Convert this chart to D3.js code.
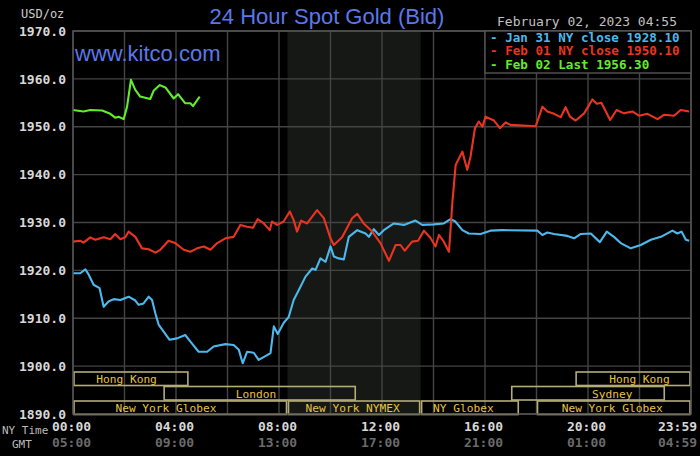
<!DOCTYPE html>
<html>
<head>
<meta charset="utf-8">
<script src="https://cdn.jsdelivr.net/npm/d3@7"></script>
<style>
  body { margin: 0; background: #000; }
  svg { display: block; }
</style>
</head>
<body>
<script>
// price ticks and time labels
const yTicks = [1890, 1900, 1910, 1920, 1930, 1940, 1950, 1960, 1970];
const xTicks = [0, 4, 8, 12, 16, 20, 23.983];
const nyLabels = ["00:00", "04:00", "08:00", "12:00", "16:00", "20:00", "23:59"];
const gmtLabels = ["05:00", "09:00", "13:00", "17:00", "21:00", "01:00", "04:59"];
const legendLabels = ["Jan 31 NY close 1928.10", "Feb 01 NY close 1950.10", "Feb 02 Last 1956.30"];

// [hour of NY day, price]
const jan31 = [
  [0, 1919.4], [0.28, 1919.4], [0.48, 1920.2], [0.61, 1919.1], [0.8, 1917.0], [1.03, 1916.3],
  [1.19, 1912.4], [1.38, 1913.5], [1.58, 1914.0], [1.84, 1913.8], [2.16, 1914.5], [2.42, 1913.7],
  [2.55, 1912.8], [2.74, 1913.1], [2.94, 1914.5], [3.07, 1913.8], [3.2, 1911.0], [3.33, 1908.6],
  [3.52, 1907.2], [3.75, 1905.5], [4.04, 1905.8], [4.36, 1906.5], [4.56, 1905.1], [4.88, 1903.0],
  [5.21, 1903.0], [5.46, 1904.1], [5.92, 1904.6], [6.24, 1904.4], [6.44, 1903.4], [6.59, 1900.6],
  [6.76, 1903.0], [7.02, 1902.8], [7.21, 1901.3], [7.54, 1902.3], [7.67, 1902.7], [7.8, 1908.3],
  [7.95, 1906.7], [8.18, 1909.0], [8.38, 1910.3], [8.57, 1913.8], [8.77, 1915.9], [9.03, 1918.7],
  [9.29, 1920.4], [9.42, 1920.1], [9.61, 1922.5], [9.81, 1921.8], [10.0, 1925.0], [10.13, 1922.9],
  [10.32, 1922.5], [10.52, 1922.3], [10.71, 1927.0], [11.04, 1928.4], [11.36, 1927.7], [11.49, 1927.0],
  [11.68, 1928.6], [11.88, 1927.4], [12.07, 1928.4], [12.46, 1929.8], [12.85, 1929.5], [13.3, 1930.4],
  [13.56, 1929.5], [14.01, 1929.6], [14.4, 1929.8], [14.66, 1930.7], [14.85, 1930.2], [15.12, 1928.4],
  [15.37, 1927.7], [15.83, 1927.6], [16.21, 1928.3], [16.67, 1928.4], [18.03, 1928.3], [18.23, 1927.4],
  [18.42, 1927.9], [18.68, 1927.6], [19.2, 1927.2], [19.46, 1926.7], [19.72, 1927.6], [20.11, 1927.7],
  [20.46, 1925.9], [20.73, 1928.1], [21.01, 1927.0], [21.27, 1925.7], [21.66, 1924.6], [22.05, 1925.3],
  [22.44, 1926.4], [22.83, 1927.0], [23.28, 1928.3], [23.47, 1927.7], [23.63, 1928.1], [23.8, 1926.4],
  [23.93, 1926.2]
];
const feb01 = [
  [0, 1926.0], [0.28, 1926.2], [0.41, 1925.8], [0.67, 1926.9], [0.87, 1926.4], [1.19, 1926.9],
  [1.45, 1926.5], [1.64, 1927.6], [1.84, 1926.5], [2.03, 1926.9], [2.16, 1928.1], [2.42, 1927.0],
  [2.68, 1924.6], [2.94, 1924.4], [3.2, 1923.7], [3.39, 1924.3], [3.71, 1926.2], [3.97, 1925.7],
  [4.3, 1924.3], [4.56, 1923.9], [4.82, 1924.6], [5.08, 1925.0], [5.34, 1924.3], [5.6, 1925.7],
  [5.92, 1926.7], [6.24, 1927.0], [6.5, 1929.5], [6.76, 1929.1], [6.99, 1928.9], [7.17, 1930.7],
  [7.41, 1929.8], [7.64, 1928.4], [7.73, 1930.2], [7.93, 1929.5], [8.18, 1930.2], [8.42, 1932.3],
  [8.57, 1930.5], [8.7, 1928.1], [8.86, 1930.4], [9.09, 1929.8], [9.48, 1932.6], [9.74, 1930.9],
  [10.0, 1926.7], [10.13, 1925.3], [10.45, 1926.9], [10.84, 1930.9], [11.04, 1931.8], [11.29, 1929.8],
  [11.62, 1928.1], [11.94, 1925.7], [12.27, 1922.0], [12.53, 1925.3], [12.72, 1925.3], [12.88, 1924.1],
  [13.17, 1926.0], [13.4, 1926.2], [13.63, 1928.3], [13.89, 1926.7], [14.08, 1925.0], [14.21, 1927.4],
  [14.4, 1926.0], [14.6, 1923.9], [14.66, 1928.4], [14.73, 1934.0], [14.86, 1942.0], [15.12, 1944.8],
  [15.31, 1941.0], [15.44, 1943.8], [15.61, 1949.7], [15.76, 1951.1], [15.9, 1950.0], [16.02, 1952.1],
  [16.35, 1951.3], [16.58, 1949.7], [16.8, 1950.9], [16.99, 1950.4], [17.97, 1950.1], [18.23, 1954.2],
  [18.42, 1953.2], [18.68, 1952.7], [18.94, 1952.0], [19.13, 1954.1], [19.3, 1952.1], [19.52, 1951.3],
  [19.85, 1952.8], [20.17, 1955.7], [20.34, 1954.8], [20.52, 1955.0], [20.86, 1951.4], [21.11, 1953.5],
  [21.4, 1952.8], [21.72, 1953.2], [21.98, 1952.3], [22.31, 1952.7], [22.7, 1951.6], [22.95, 1952.5],
  [23.34, 1952.3], [23.6, 1953.5], [23.93, 1953.2]
];
const feb02 = [
  [0, 1953.5], [0.41, 1953.2], [0.67, 1953.5], [1.13, 1953.4], [1.45, 1952.7], [1.64, 1951.9],
  [1.77, 1952.1], [1.97, 1951.6], [2.1, 1954.2], [2.25, 1959.8], [2.42, 1957.7], [2.61, 1956.3],
  [3.0, 1955.8], [3.13, 1957.5], [3.37, 1958.7], [3.59, 1958.2], [3.91, 1955.9], [4.08, 1956.8],
  [4.36, 1954.9], [4.56, 1954.9], [4.66, 1954.3], [4.92, 1956.3]
];

// trading sessions: row 0 top, 2 bottom; hours of NY day
const sessions = [
  { name: "Hong Kong", row: 0, start: 0, end: 4.5, labelAt: 2.08 },
  { name: "Hong Kong", row: 0, start: 19.5, end: 24, labelAt: 22.0 },
  { name: "London", row: 1, start: 3.5, end: 11, labelAt: 7.11 },
  { name: "Sydney", row: 1, start: 17, end: 23, labelAt: 20.94 },
  { name: "New York Globex", row: 2, start: 0, end: 8.33, labelAt: 3.61 },
  { name: "New York NYMEX", row: 2, start: 8.33, end: 13.5, labelAt: 10.86 },
  { name: "NY Globex", row: 2, start: 13.5, end: 17.33, labelAt: 15.16 },
  { name: "New York Globex", row: 2, start: 18, end: 24, labelAt: 20.94 }
];

const width = 700;
const height = 456;
const marginLeft = 73;
const marginRight = 9;
const marginTop = 31;
const marginBottom = 42;

const seriesColors = ["#4cb8ec", "#ea3420", "#62ec2c"];
const mono = "'DejaVu Sans Mono', monospace";

const x = d3.scaleLinear([0, 24], [marginLeft, width - marginRight]);
const y = d3.scaleLinear([1890, 1970], [height - marginBottom, marginTop]);

const svg = d3.select("body").append("svg")
    .attr("width", width)
    .attr("height", height)
    .attr("viewBox", [0, 0, width, height])
    .style("background", "#000");

// NYMEX shaded hours
svg.append("rect")
    .attr("x", x(8.33))
    .attr("y", marginTop)
    .attr("width", x(13.5) - x(8.33))
    .attr("height", y(1890) - marginTop)
    .attr("fill", "#151815");

// grid
svg.append("g")
    .attr("stroke", "#444")
    .attr("stroke-width", 1.4)
    .call(g => g.selectAll(".v")
      .data(d3.range(0, 25, 2))
      .join("line")
        .attr("x1", d => x(d)).attr("x2", d => x(d))
        .attr("y1", marginTop).attr("y2", y(1890)))
    .call(g => g.selectAll(".h")
      .data(yTicks)
      .join("line")
        .attr("x1", marginLeft).attr("x2", width - marginRight)
        .attr("y1", d => y(d)).attr("y2", d => y(d)));

// y axis labels
svg.append("g")
    .attr("transform", `translate(${marginLeft},0)`)
    .call(d3.axisLeft(y).tickValues(yTicks).tickFormat(d3.format(".1f")).tickSize(0).tickPadding(7))
    .call(g => g.select(".domain").remove())
    .call(g => g.selectAll("text")
      .attr("fill", "#d8d8d8")
      .attr("font-family", mono)
      .attr("font-weight", "bold")
      .attr("font-size", 13));

// x axis labels, NY time and GMT
function timeAxis(labels, pad, color) {
  return g => g.attr("transform", `translate(0,${y(1890)})`)
    .call(d3.axisBottom(x).tickValues(xTicks).tickFormat((d, i) => labels[i]).tickSize(0).tickPadding(pad))
    .call(g => g.select(".domain").remove())
    .call(g => g.selectAll("text")
      .attr("fill", color)
      .attr("font-family", mono)
      .attr("font-weight", "bold")
      .attr("font-size", 13)
      .attr("dx", -2))
    .call(g => g.selectAll(".tick:last-of-type text")
      .attr("text-anchor", "end")
      .attr("dx", 6));
}
svg.append("g").call(timeAxis(nyLabels, 8, "#d8d8d8"));
svg.append("g").call(timeAxis(gmtLabels, 24, "#6a6a6a"));

svg.append("text")
    .attr("x", 2).attr("y", 434)
    .attr("fill", "#bbb").attr("font-family", mono).attr("font-size", 11)
    .text("NY Time");
svg.append("text")
    .attr("x", 12).attr("y", 448)
    .attr("fill", "#bbb").attr("font-family", mono).attr("font-size", 11)
    .text("GMT");
svg.append("text")
    .attr("x", 21).attr("y", 18)
    .attr("fill", "#ccc").attr("font-family", mono).attr("font-size", 12)
    .text("USD/oz");

// session bars
const rowTop = [372, 386.5, 401];
const rowH = 13.5;
const sess = svg.append("g").selectAll("g")
  .data(sessions)
  .join("g");
sess.append("rect")
    .attr("x", d => x(d.start) + 1)
    .attr("y", d => rowTop[d.row])
    .attr("width", d => x(d.end) - x(d.start) - 2)
    .attr("height", rowH)
    .attr("fill", "none")
    .attr("stroke", "#b4ad76")
    .attr("stroke-width", 1.6);
sess.append("text")
    .attr("x", d => x(d.labelAt))
    .attr("y", d => rowTop[d.row] + rowH / 2 + 4.5)
    .attr("text-anchor", "middle")
    .attr("fill", "#e6c24a")
    .attr("font-family", mono)
    .attr("font-size", 11.2)
    .text(d => d.name);

// price lines
const line = d3.line()
    .x(d => x(d[0]))
    .y(d => y(d[1]));

svg.append("g")
    .attr("fill", "none")
    .attr("stroke-width", 2.1)
    .attr("stroke-linejoin", "round")
  .selectAll("path")
  .data([jan31, feb01, feb02])
  .join("path")
    .attr("stroke", (d, i) => seriesColors[i])
    .attr("d", line);

// plot frame
svg.append("rect")
    .attr("x", marginLeft).attr("y", marginTop)
    .attr("width", width - marginRight - marginLeft)
    .attr("height", y(1890) - marginTop)
    .attr("fill", "none")
    .attr("stroke", "#555")
    .attr("stroke-width", 1.4);

// legend box
const legend = svg.append("g");
legend.append("rect")
    .attr("x", x(16)).attr("y", marginTop)
    .attr("width", width - marginRight - x(16))
    .attr("height", 42)
    .attr("fill", "#000")
    .attr("stroke", "#555")
    .attr("stroke-width", 1.4);
legend.selectAll("text")
  .data(legendLabels)
  .join("text")
    .attr("x", x(16) + 5)
    .attr("y", (d, i) => 41.5 + i * 13.8)
    .attr("fill", (d, i) => seriesColors[i])
    .attr("font-family", mono)
    .attr("font-weight", "bold")
    .attr("font-size", 12.6)
    .text(d => "- " + d);

// titles
svg.append("text")
    .attr("x", 327).attr("y", 24)
    .attr("text-anchor", "middle")
    .attr("fill", "#5a78ea")
    .attr("font-family", "'Liberation Sans', Arial, sans-serif")
    .attr("font-size", 22)
    .text("24 Hour Spot Gold (Bid)");
svg.append("text")
    .attr("x", 75).attr("y", 61)
    .attr("fill", "#5a78ea")
    .attr("font-family", "'Liberation Sans', Arial, sans-serif")
    .attr("font-size", 22)
    .text("www.kitco.com");
svg.append("text")
    .attr("x", 677).attr("y", 26)
    .attr("text-anchor", "end")
    .attr("fill", "#c0c0c0")
    .attr("font-family", mono)
    .attr("font-size", 13)
    .text("February 02, 2023 04:55");
</script>
</body>
</html>
